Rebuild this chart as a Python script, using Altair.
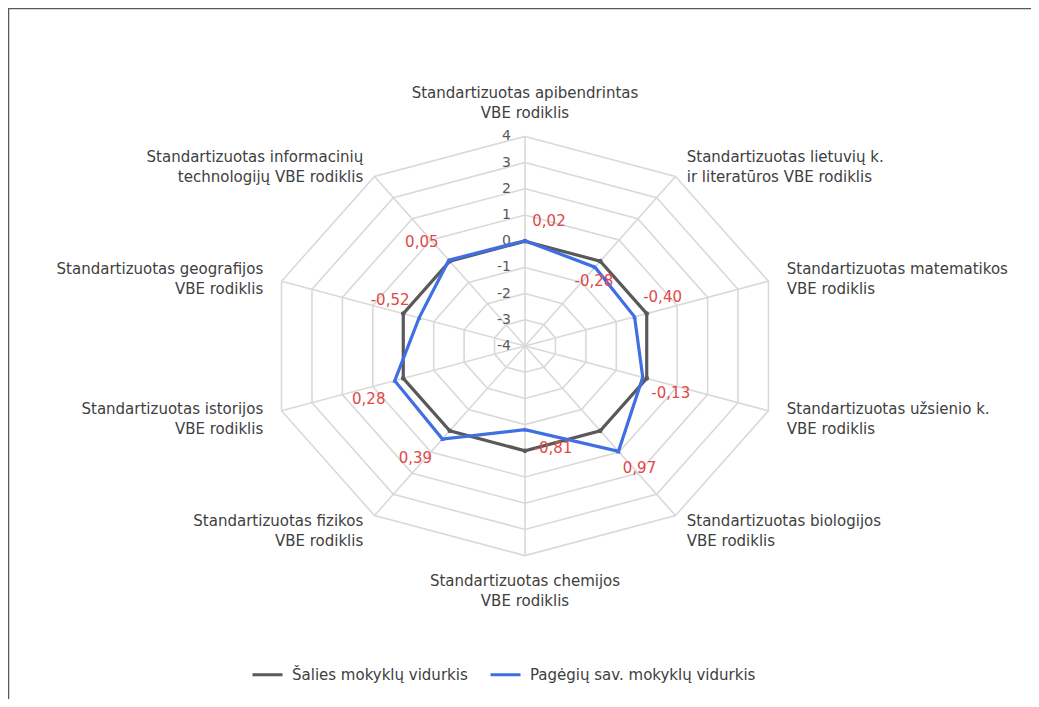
import math
import altair as alt
import pandas as pd

# ---------------- data ----------------
categories = [
    "Standartizuotas apibendrintas\nVBE rodiklis",
    "Standartizuotas lietuvių k.\nir literatūros VBE rodiklis",
    "Standartizuotas matematikos\nVBE rodiklis",
    "Standartizuotas užsienio k.\nVBE rodiklis",
    "Standartizuotas biologijos\nVBE rodiklis",
    "Standartizuotas chemijos\nVBE rodiklis",
    "Standartizuotas fizikos\nVBE rodiklis",
    "Standartizuotas istorijos\nVBE rodiklis",
    "Standartizuotas geografijos\nVBE rodiklis",
    "Standartizuotas informacinių\ntechnologijų VBE rodiklis",
]
series_names = ["Šalies mokyklų vidurkis", "Pagėgių sav. mokyklų vidurkis"]
national = [0, 0, 0, 0, 0, 0, 0, 0, 0, 0]
pagegiai = [0.02, -0.28, -0.40, -0.13, 0.97, -0.81, 0.39, 0.28, -0.52, 0.05]
ticks = [-4, -3, -2, -1, 0, 1, 2, 3, 4]

# ---------------- layout / style ----------------
W, H = 1023, 691
CX, CY = 517, 338          # centre of the radar in plot pixels
SX, SY = 32.0, 26.2        # pixels per unit (horizontal / vertical)
RMIN, RMAX = -4, 4
LABEL_R = 8.6
# data label offsets (pixels) relative to each blue point
lab_dx = [24, -1, 28, 28, 21, 28, -27, -26, -29, -27]
lab_dy = [-20, 14, -20, 16, 17, 18, 19, 18, -18, -18]

GRID = "#d9d9d9"
GREY = "#595959"
BLUE = "#3f6fe3"
RED = "#e04848"
TXT = "#404040"
FONT = "DejaVu Sans"
FS = 15

n = len(categories)
ang = [2 * math.pi * k / n for k in range(n)]


def pos(k, val):
    r = val - RMIN
    return r * math.sin(ang[k % n]), r * math.cos(ang[k % n])


xdom = [-CX / SX, (W - CX) / SX]
ydom = [-(H - CY) / SY, CY / SY]
X = lambda f="x": alt.X(f, type="quantitative", scale=alt.Scale(domain=xdom, nice=False, zero=False), axis=None)
Y = lambda f="y": alt.Y(f, type="quantitative", scale=alt.Scale(domain=ydom, nice=False, zero=False), axis=None)

# grid rings
rows = []
for lvl in ticks[1:]:
    for k in range(n + 1):
        x, y = pos(k, lvl)
        rows.append({"lvl": lvl, "k": k, "x": x, "y": y})
rings = pd.DataFrame(rows)
ring_layer = alt.Chart(rings).mark_line(color=GRID, strokeWidth=1.6).encode(
    x=X(), y=Y(), detail="lvl:N", order="k:Q")

# spokes
sp = []
for k in range(n):
    x, y = pos(k, RMAX)
    sp.append({"x": 0.0, "y": 0.0, "x2": x, "y2": y})
spokes = pd.DataFrame(sp)
spoke_layer = alt.Chart(spokes).mark_rule(color=GRID, strokeWidth=1.6).encode(
    x=X(), y=Y(), x2="x2:Q", y2="y2:Q")

# radial tick labels
tk = pd.DataFrame([{"x": 0.0, "y": t - RMIN, "t": str(t)} for t in ticks])
tick_layer = alt.Chart(tk).mark_text(align="right", baseline="middle", dx=-14,
                                     font=FONT, fontSize=14, color=GREY).encode(
    x=X(), y=Y(), text="t:N")

# series
color_scale = alt.Scale(domain=series_names, range=[GREY, BLUE])


def series_df(name, vals):
    out = []
    for k in range(n + 1):
        x, y = pos(k, vals[k % n])
        out.append({"series": name, "k": k, "x": x, "y": y})
    return pd.DataFrame(out)


legend = alt.Legend(title=None, orient="none", direction="horizontal",
                    legendX=243, legendY=650, symbolType="stroke", symbolSize=900,
                    symbolStrokeWidth=3, labelFont=FONT, labelFontSize=FS,
                    labelColor=TXT, columnPadding=16, labelOffset=8, labelLimit=0)

layers_series = []
for name, vals, shape in [(series_names[0], national, "circle"), (series_names[1], pagegiai, "triangle-up")]:
    df = series_df(name, vals)
    layers_series.append(
        alt.Chart(df).mark_line(strokeWidth=3.2).encode(
            x=X(), y=Y(), order="k:Q",
            color=alt.Color("series:N", scale=color_scale, legend=legend, sort=series_names)))
    layers_series.append(
        alt.Chart(df[df.k < n]).mark_point(filled=True, size=22, shape=shape, opacity=1).encode(
            x=X(), y=Y(),
            color=alt.Color("series:N", scale=color_scale, legend=None)))

# data labels for Pagėgiai
dl = []
for k in range(n):
    x, y = pos(k, pagegiai[k])
    dl.append({"x": x + lab_dx[k] / SX, "y": y - lab_dy[k] / SY,
               "t": f"{pagegiai[k]:.2f}".replace(".", ",")})
dl_layer = alt.Chart(pd.DataFrame(dl)).mark_text(align="center", baseline="middle",
                                                 font=FONT, fontSize=FS, color=RED).encode(
    x=X(), y=Y(), text="t:N")

# category labels
cat_rows = []
for k in range(n):
    x, y = pos(k, RMIN + LABEL_R)
    s = math.sin(ang[k])
    if s > 0.1:
        grp = "right"
    elif s < -0.1:
        grp = "left"
    elif math.cos(ang[k]) > 0:
        grp = "top"
    else:
        grp = "bottom"
    cat_rows.append({"x": x, "y": y, "t": categories[k], "grp": grp})
cats = pd.DataFrame(cat_rows)
cat_layers = []
for grp, al, bl, dy in [("right", "left", "middle", -7), ("left", "right", "middle", -7),
                        ("top", "center", "bottom", -20), ("bottom", "center", "top", 3)]:
    cat_layers.append(
        alt.Chart(cats[cats.grp == grp]).mark_text(
            align=al, baseline=bl, dy=dy, lineBreak="\n", lineHeight=20,
            font=FONT, fontSize=FS, color=TXT).encode(x=X(), y=Y(), text="t:N"))

# frame (top and left edges)
frame = pd.DataFrame([{"x": xdom[0], "y": ydom[1], "x2": xdom[1], "y2": ydom[1]},
                      {"x": xdom[0], "y": ydom[1], "x2": xdom[0], "y2": ydom[0]}])
frame_layer = alt.Chart(frame).mark_rule(color=GREY, strokeWidth=2.5).encode(
    x=X(), y=Y(), x2="x2:Q", y2="y2:Q")

chart = alt.layer(ring_layer, spoke_layer, tick_layer, *layers_series, dl_layer,
                  *cat_layers, frame_layer).properties(
    width=W, height=H, autosize=alt.AutoSizeParams(type="none"), padding=0
).configure_view(stroke=None).configure(background="white")

chart.save("out.html", embed_options={"renderer": "svg", "actions": False})
